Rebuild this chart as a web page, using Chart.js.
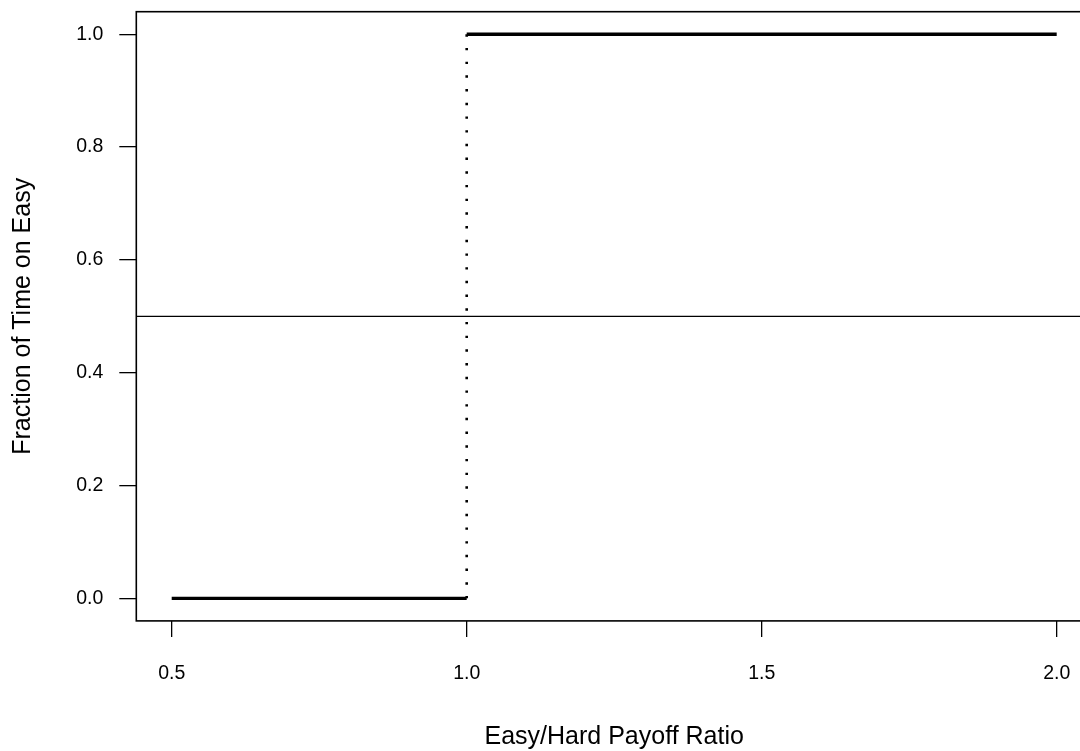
<!DOCTYPE html>
<html>
<head>
<meta charset="utf-8">
<script src="https://cdn.jsdelivr.net/npm/chart.js@4/dist/chart.umd.min.js"></script>
<style>
  html, body { margin: 0; padding: 0; background: #fff; overflow: hidden; width: 1080px; height: 751px; }
  #wrap { width: 1100px; height: 751px; }
  canvas { display: block; }
</style>
</head>
<body>
<div id="wrap"><canvas id="c" width="1100" height="751"></canvas></div>
<script>
// Fraction of time spent on the easy task as a function of the easy/hard payoff ratio
const lowRatio = [0.5, 1.0];
const lowFraction = [0.0, 0.0];
const highRatio = [1.0, 2.0];
const highFraction = [1.0, 1.0];
const switchRatio = [1.0, 1.0];
const switchFraction = [0.0, 1.0];
const referenceLevel = 0.5;

const xRange = [0.44, 2.06];
const yRange = [-0.04, 1.04];
const xTicks = [0.5, 1.0, 1.5, 2.0];
const yTicks = [0.0, 0.2, 0.4, 0.6, 0.8, 1.0];

const FONT = "'Liberation Sans', Arial, Helvetica, sans-serif";

const toPoints = (xs, ys) => xs.map((x, i) => ({ x: x, y: ys[i] }));

// frame around the plotting region
const boxPlugin = {
  id: 'plotBox',
  afterDatasetsDraw(chart) {
    const { ctx, chartArea: a } = chart;
    ctx.save();
    ctx.strokeStyle = '#000';
    ctx.lineWidth = 1.6;
    ctx.strokeRect(a.left, a.top, a.right - a.left, a.bottom - a.top);
    ctx.restore();
  }
};

new Chart(document.getElementById('c'), {
  type: 'line',
  data: {
    datasets: [
      {
        data: toPoints([xRange[0], xRange[1]], [referenceLevel, referenceLevel]),
        borderColor: '#000', borderWidth: 1.2, pointRadius: 0
      },
      {
        data: toPoints(switchRatio, switchFraction),
        borderColor: '#000', borderWidth: 2.6, borderDash: [2.4, 11.3], pointRadius: 0
      },
      {
        data: toPoints(lowRatio, lowFraction),
        borderColor: '#000', borderWidth: 3.4, pointRadius: 0
      },
      {
        data: toPoints(highRatio, highFraction),
        borderColor: '#000', borderWidth: 3.4, pointRadius: 0
      }
    ]
  },
  options: {
    responsive: false,
    animation: false,
    devicePixelRatio: 1,
    layout: { padding: { top: 11.7, right: 7.9, left: 0, bottom: 0 } },
    plugins: { legend: { display: false }, tooltip: { enabled: false } },
    elements: { line: { tension: 0, borderCapStyle: 'butt' } },
    scales: {
      x: {
        type: 'linear',
        min: xRange[0], max: xRange[1],
        afterBuildTicks: (s) => { s.ticks = xTicks.map(v => ({ value: v })); },
        afterFit: (s) => { s.height = 130.1; s.paddingLeft = 0; s.paddingRight = 0; },
        border: { display: false },
        grid: { drawOnChartArea: false, drawTicks: true, tickLength: 16, color: '#000', lineWidth: 1.3 },
        ticks: {
          color: '#000', padding: 25,
          font: { family: FONT, size: 19.5, lineHeight: 1.2 },
          maxRotation: 0, autoSkip: false,
          callback: (v) => Number(v).toFixed(1)
        },
        title: {
          display: true, text: 'Easy/Hard Payoff Ratio', color: '#000',
          font: { family: FONT, size: 25, lineHeight: 1 },
          padding: { top: 0, bottom: 1 }
        }
      },
      y: {
        type: 'linear',
        min: yRange[0], max: yRange[1],
        afterBuildTicks: (s) => { s.ticks = yTicks.map(v => ({ value: v })); },
        afterFit: (s) => { s.width = 136.3; s.paddingTop = 0; s.paddingBottom = 0; },
        border: { display: false },
        grid: { drawOnChartArea: false, drawTicks: true, tickLength: 17, color: '#000', lineWidth: 1.3 },
        ticks: {
          color: '#000', padding: 16,
          font: { family: FONT, size: 19.5, lineHeight: 1.2 },
          autoSkip: false,
          callback: (v) => Number(v).toFixed(1)
        },
        title: {
          display: true, text: 'Fraction of Time on Easy', color: '#000',
          font: { family: FONT, size: 25, lineHeight: 1 },
          padding: { top: 10.5, bottom: 0 }
        }
      }
    }
  },
  plugins: [boxPlugin]
});
</script>
</body>
</html>
